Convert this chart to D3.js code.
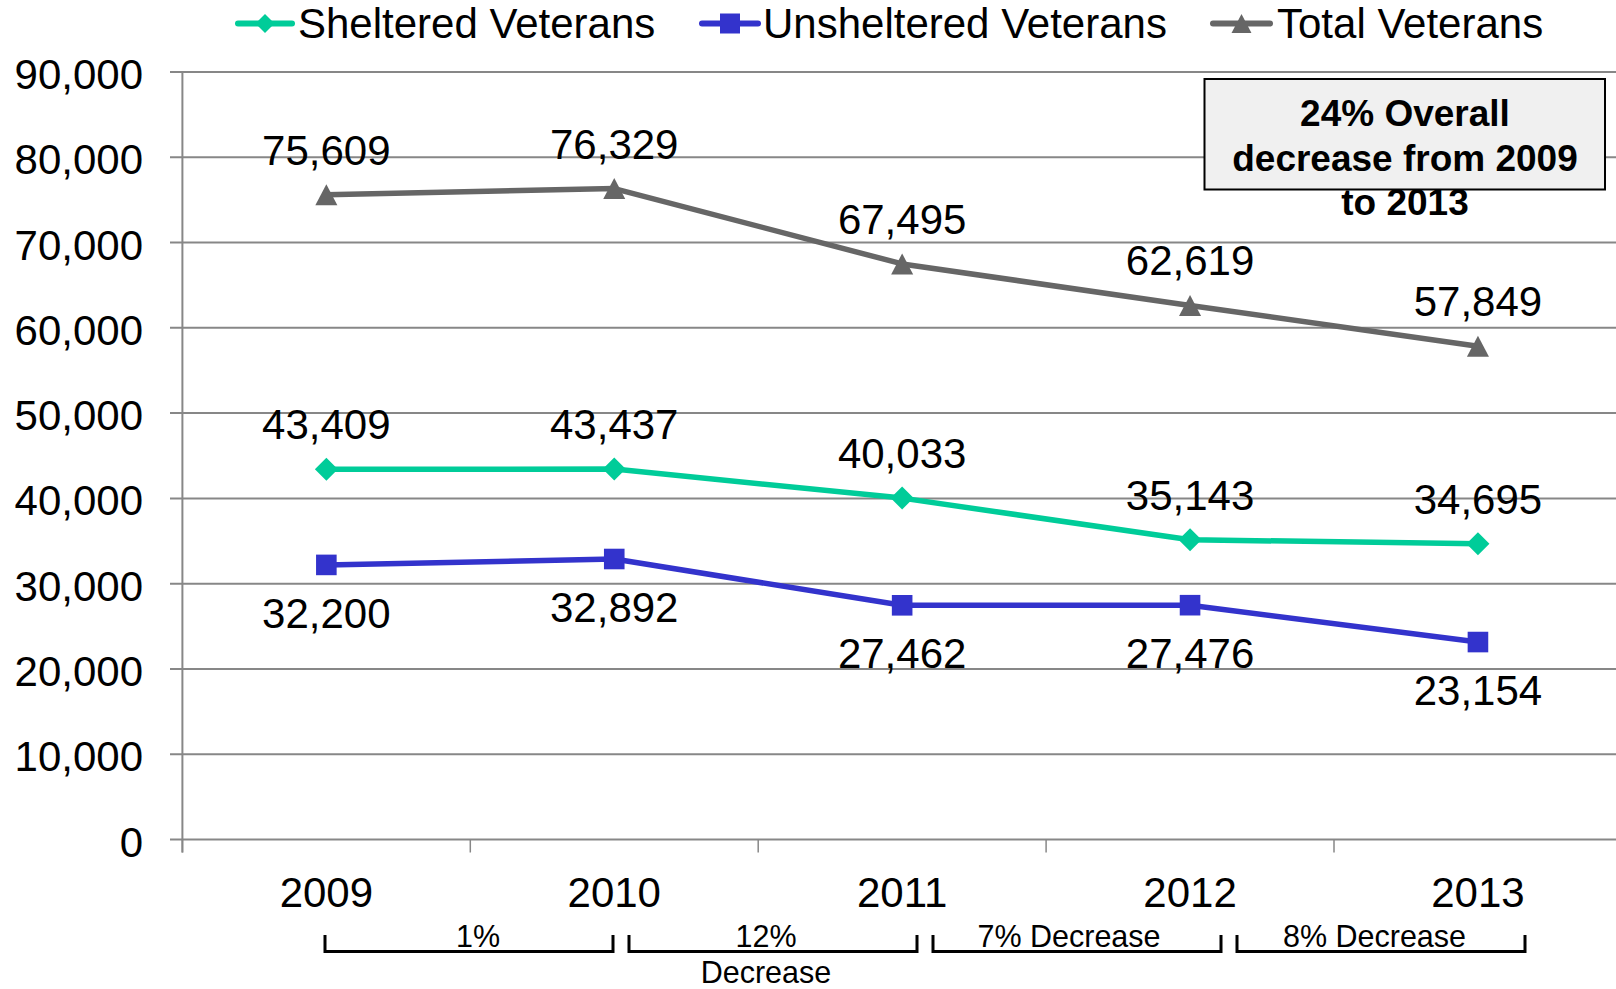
<!DOCTYPE html>
<html>
<head>
<meta charset="utf-8">
<script src="https://cdn.jsdelivr.net/npm/d3@7"></script>
<style>
  html, body { margin: 0; padding: 0; background: #fff; }
  svg { display: block; font-family: "Liberation Sans", Arial, sans-serif; }
</style>
</head>
<body>
<svg id="chart" width="1616" height="989"></svg>
<script>
// Homeless veterans counts by year
const years = ["2009", "2010", "2011", "2012", "2013"];
const sheltered = [43409, 43437, 40033, 35143, 34695];
const unsheltered = [32200, 32892, 27462, 27476, 23154];
const total = [75609, 76329, 67495, 62619, 57849];
const yTicks = [0, 10000, 20000, 30000, 40000, 50000, 60000, 70000, 80000, 90000];

// Year-over-year change notes shown under the axis
const changeNotes = [["1%"], ["12%", "Decrease"], ["7% Decrease"], ["8% Decrease"]];
const summaryLines = ["24% Overall", "decrease from 2009", "to 2013"];

const seriesList = [
  { name: "Sheltered Veterans", values: sheltered, color: "#00CC99", marker: "diamond", size: 11.5, labelPos: "above" },
  { name: "Unsheltered Veterans", values: unsheltered, color: "#3333CC", marker: "square", size: 10.3, labelPos: "below" },
  { name: "Total Veterans", values: total, color: "#666666", marker: "triangle", size: 10.5, labelPos: "above" }
];

const svg = d3.select("#chart");
const left = 182.4, band = 287.9;
const x = d3.scalePoint().domain(years).range([left, left + band * years.length]).padding(0.5);
const y = d3.scaleLinear().domain([0, 90000]).range([839.5, 72]);
const fmt = d3.format(",");
const gridColor = "#878787";

// Horizontal gridlines with left tick stubs
svg.append("g").selectAll("line").data(yTicks).join("line")
  .attr("x1", 170).attr("x2", 1616)
  .attr("y1", d => y(d)).attr("y2", d => y(d))
  .attr("stroke", gridColor).attr("stroke-width", 2);

// Y tick labels
svg.append("g").selectAll("text").data(yTicks).join("text")
  .attr("x", 143).attr("y", d => y(d) + 17)
  .attr("text-anchor", "end").attr("font-size", 42).attr("fill", "#000")
  .text(d => fmt(d));

// Vertical axis line
svg.append("line")
  .attr("x1", left).attr("x2", left).attr("y1", y(90000)).attr("y2", y(0) + 13)
  .attr("stroke", gridColor).attr("stroke-width", 2);

// Category boundary ticks on the x axis
const boundaries = d3.range(years.length + 1).map(i => left + band * i);
svg.append("g").selectAll("line").data(boundaries).join("line")
  .attr("x1", d => d).attr("x2", d => d)
  .attr("y1", y(0)).attr("y2", y(0) + 13)
  .attr("stroke", gridColor).attr("stroke-width", 1.5);

// Year labels
svg.append("g").selectAll("text").data(years).join("text")
  .attr("x", d => x(d)).attr("y", 906.5)
  .attr("text-anchor", "middle").attr("font-size", 42).attr("fill", "#000")
  .text(d => d);

// Marker shapes
function markerPath(type, r) {
  if (type === "diamond") return `M0,${-r}L${r},0L0,${r}L${-r},0Z`;
  if (type === "square") return `M${-r},${-r}H${r}V${r}H${-r}Z`;
  return `M0,${-r}L${r * 1.05},${r}L${-r * 1.05},${r}Z`;
}

const line = d3.line().x((d, i) => x(years[i])).y(d => y(d));

seriesList.forEach(s => {
  const g = svg.append("g");
  g.append("path").datum(s.values)
    .attr("d", line).attr("fill", "none")
    .attr("stroke", s.color).attr("stroke-width", 5.5).attr("stroke-linejoin", "round");
  g.selectAll("path.m").data(s.values).join("path").attr("class", "m")
    .attr("transform", (d, i) => `translate(${x(years[i])},${y(d)})`)
    .attr("d", markerPath(s.marker, s.size))
    .attr("fill", s.color);
  g.selectAll("text").data(s.values).join("text")
    .attr("x", (d, i) => x(years[i]))
    .attr("y", d => s.labelPos === "above" ? y(d) - 30 : y(d) + 63)
    .attr("text-anchor", "middle").attr("font-size", 42).attr("fill", "#000")
    .text(d => fmt(d));
});

// Legend
const legendItems = [
  { s: seriesList[0], x0: 238, x1: 292, tx: 298 },
  { s: seriesList[1], x0: 702, x1: 758, tx: 763 },
  { s: seriesList[2], x0: 1213, x1: 1270, tx: 1277 }
];
const lg = svg.append("g");
legendItems.forEach(it => {
  const cy = 23.5;
  lg.append("line").attr("x1", it.x0).attr("x2", it.x1).attr("y1", cy).attr("y2", cy)
    .attr("stroke", it.s.color).attr("stroke-width", 6).attr("stroke-linecap", "round");
  lg.append("path")
    .attr("transform", `translate(${(it.x0 + it.x1) / 2},${cy})`)
    .attr("d", markerPath(it.s.marker, it.s.marker === "square" ? 10 : 9.5))
    .attr("fill", it.s.color);
  lg.append("text").attr("x", it.tx).attr("y", 38)
    .attr("font-size", 42).attr("fill", "#000").text(it.s.name);
});

// Summary callout box
const box = svg.append("g");
box.append("rect").attr("x", 1204.5).attr("y", 79).attr("width", 400.5).attr("height", 110.5)
  .attr("fill", "#f0f0f0").attr("stroke", "#000").attr("stroke-width", 2);
box.selectAll("text").data(summaryLines).join("text")
  .attr("x", 1405).attr("y", (d, i) => 126 + i * 44.5)
  .attr("text-anchor", "middle").attr("font-size", 37).attr("font-weight", "bold")
  .attr("fill", "#000").text(d => d);

// Brackets with change notes below the axis
const bracketStart = 325, bracketStep = 304, bracketWidth = 288;
const noteOffsets = [9, -7, -8, -6.5];
const br = svg.append("g");
changeNotes.forEach((lines, i) => {
  const x0 = bracketStart + i * bracketStep, x1 = x0 + bracketWidth;
  br.append("path")
    .attr("d", `M${x0},935V951.5H${x1}V935`)
    .attr("fill", "none").attr("stroke", "#000").attr("stroke-width", 3);
  lines.forEach((t, j) => {
    br.append("text")
      .attr("x", (x0 + x1) / 2 + noteOffsets[i]).attr("y", 946.5 + j * 36)
      .attr("text-anchor", "middle").attr("font-size", 30.5).attr("fill", "#000")
      .text(t);
  });
});
</script>
</body>
</html>
